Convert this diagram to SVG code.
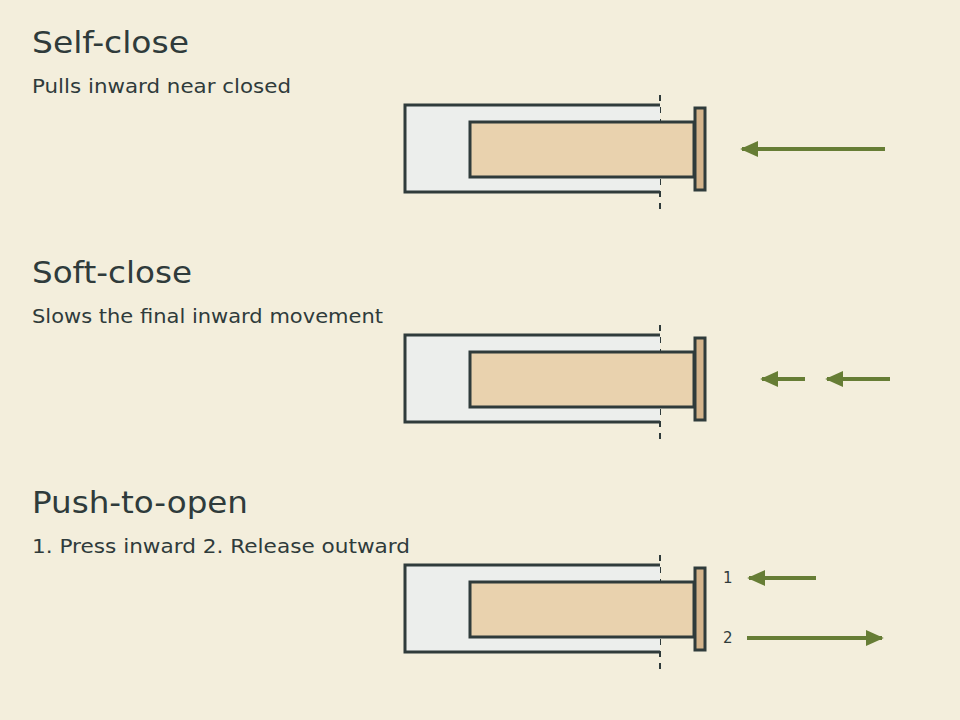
<svg xmlns="http://www.w3.org/2000/svg" width="960" height="720" viewBox="0 0 960 720">
<style>
.t{font-family:"DejaVu Sans","Liberation Sans",sans-serif;fill:#2f3b3b}
.h{font-size:30px}.s{font-size:19px}.n{font-size:15px}
.dash{stroke:#2f3b3b;stroke-width:2;stroke-dasharray:6,6}
.hou{fill:#eceeec;stroke:#2f3b3b;stroke-width:3}
.in{fill:#e9d2ae;stroke:#2f3b3b;stroke-width:3}
.pl{fill:#d4b48c;stroke:#2f3b3b;stroke-width:3}
.ar{stroke:#667d35;stroke-width:4;fill:none}
</style>
<defs>
<marker id="ah" viewBox="0 0 10 10" refX="9" refY="5" markerWidth="4.5" markerHeight="4" orient="auto" markerUnits="strokeWidth" preserveAspectRatio="none"><path d="M0,0L10,5L0,10z" fill="#667d35"/></marker>
<g id="mech">
<line class="dash" x1="660" y1="95" x2="660" y2="210"/>
<path class="hou" d="M660,105H405V192H660"/>
<rect class="in" x="470" y="122" width="224" height="55"/>
<rect class="pl" x="695" y="108" width="10" height="82"/>
</g>
</defs>
<rect width="960" height="720" fill="#f3eedc"/>
<g id="self-close">
<text class="t h" x="32" y="53" textLength="157" lengthAdjust="spacingAndGlyphs">Self-close</text>
<text class="t s" x="32" y="93" textLength="259" lengthAdjust="spacingAndGlyphs">Pulls inward near closed</text>
<use href="#mech"/>
</g>
<g id="soft-close">
<text class="t h" x="32" y="283" textLength="160" lengthAdjust="spacingAndGlyphs">Soft-close</text>
<text class="t s" x="32" y="323" textLength="351" lengthAdjust="spacingAndGlyphs">Slows the final inward movement</text>
<use href="#mech" y="230"/>
</g>
<g id="push-to-open">
<text class="t h" x="32" y="513" textLength="216" lengthAdjust="spacingAndGlyphs">Push-to-open</text>
<text class="t s" x="32" y="553" textLength="378" lengthAdjust="spacingAndGlyphs">1. Press inward 2. Release outward</text>
<use href="#mech" y="460"/>
<text class="t n" x="723" y="583">1</text>
<text class="t n" x="723" y="643">2</text>
</g>
<g id="connectors">
<line class="ar" x1="885" y1="149" x2="742" y2="149" marker-end="url(#ah)"/>
<line class="ar" x1="805" y1="379" x2="762" y2="379" marker-end="url(#ah)"/>
<line class="ar" x1="890" y1="379" x2="827" y2="379" marker-end="url(#ah)"/>
<line class="ar" x1="816" y1="578" x2="749" y2="578" marker-end="url(#ah)"/>
<line class="ar" x1="747" y1="638" x2="882" y2="638" marker-end="url(#ah)"/>
</g>
</svg>
